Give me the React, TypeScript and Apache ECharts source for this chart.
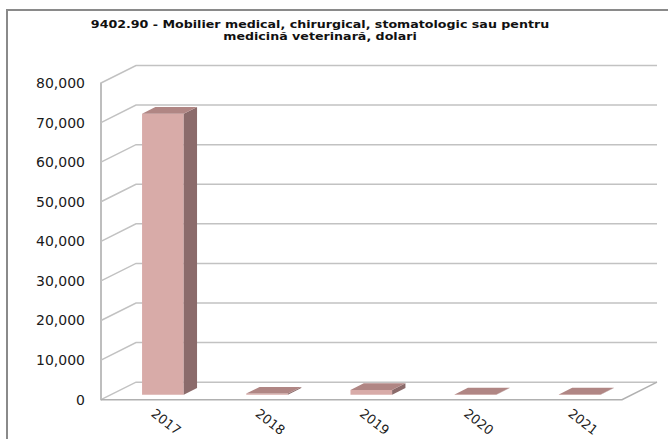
import { useEffect, useRef } from 'react';
import * as echarts from 'echarts';

const titleLines = [
  '9402.90 - Mobilier medical, chirurgical, stomatologic sau pentru',
  'medicină veterinară, dolari',
];
const categories = ['2017', '2018', '2019', '2020', '2021'];
const values = [71000, 300, 1200, 60, 60];
const yTicks = [0, 10000, 20000, 30000, 40000, 50000, 60000, 70000, 80000];

const DX = 35;
const DY = -17.5;
const D0 = 0.28;
const D1 = 0.66;
const BAR_FRAC = 0.4;
const FRONT = '#d8aba8';
const SIDE = '#8b6b6b';
const TOP = '#b08684';
const GRID = '#c2c2c2';

export default function App() {
  const ref = useRef<HTMLDivElement>(null);
  useEffect(() => {
    const chart = echarts.init(ref.current!, null, { renderer: 'svg' });
    chart.setOption({
      animation: false,
      backgroundColor: '#ffffff',
      grid: { left: 101, top: 83, width: 521, height: 317 },
      xAxis: {
        type: 'category',
        data: categories,
        axisLine: { show: false },
        axisTick: { show: false },
        splitLine: { show: false },
        axisLabel: {
          rotate: -38,
          margin: 12,
          interval: 0,
          fontFamily: 'DejaVu Sans',
          fontSize: 13,
          color: '#222',
        },
      },
      yAxis: {
        type: 'value',
        min: 0,
        max: 80000,
        interval: 10000,
        axisLine: { show: true, lineStyle: { color: '#a8a8a8', width: 1.5 } },
        axisTick: { show: false },
        splitLine: { show: false },
        axisLabel: {
          margin: 16,
          fontFamily: 'DejaVu Sans',
          fontSize: 14,
          color: '#1a1a1a',
          formatter: (v: number) => v.toLocaleString('en-US'),
        },
      },
      graphic: [
        {
          type: 'rect',
          silent: true,
          z: -10,
          shape: { x: 7, y: 10, width: 720, height: 500 },
          style: { fill: 'none', stroke: '#8a8a8a', lineWidth: 2 },
        },
        ...titleLines.map((t, k) => ({
          type: 'text',
          x: 320,
          y: 24.5 + k * 11.5,
          scaleX: 1.15,
          style: {
            text: t,
            textAlign: 'center',
            textVerticalAlign: 'middle',
            font: 'bold 11px "DejaVu Sans"',
            fill: '#111',
          },
        })),
      ],
      series: [
        {
          type: 'custom',
          silent: true,
          z: 1,
          data: [[0, 0]],
          renderItem: (params: any, api: any) => {
            const cs = params.coordSys;
            const x0 = cs.x;
            const x1 = cs.x + cs.width;
            const children: any[] = [];
            yTicks.forEach((v) => {
              const y = api.coord([0, v])[1];
              children.push({
                type: 'polyline',
                shape: { points: [[x0, y], [x0 + DX, y + DY], [x1 + DX, y + DY]] },
                style: { stroke: GRID, lineWidth: 1.5, fill: 'none' },
              });
            });
            const yb = api.coord([0, 0])[1];
            children.push({
              type: 'polyline',
              shape: { points: [[x0, yb], [x1, yb], [x1 + DX, yb + DY]] },
              style: { stroke: '#b0b0b0', lineWidth: 1.5, fill: 'none' },
            });
            return { type: 'group', children };
          },
        },
        {
          type: 'custom',
          z: 2,
          data: values.map((v, i) => [i, v]),
          renderItem: (params: any, api: any) => {
            const i = api.value(0);
            const v = api.value(1);
            const base = api.coord([i, 0]);
            const top = api.coord([i, v]);
            const bw = api.size([1, 0])[0] * BAR_FRAC;
            const ox = D0 * DX;
            const oy = D0 * DY;
            const ddx = (D1 - D0) * DX;
            const ddy = (D1 - D0) * DY;
            const xl = base[0] - bw / 2 + ox;
            const xr = xl + bw;
            const yb = base[1] + oy;
            const yt = top[1] + oy;
            return {
              type: 'group',
              children: [
                {
                  type: 'rect',
                  shape: { x: xl, y: yt, width: bw, height: Math.max(yb - yt, 0.5) },
                  style: { fill: FRONT },
                },
                {
                  type: 'polygon',
                  shape: { points: [[xr, yt], [xr + ddx, yt + ddy], [xr + ddx, yb + ddy], [xr, yb]] },
                  style: { fill: SIDE },
                },
                {
                  type: 'polygon',
                  shape: { points: [[xl, yt], [xl + ddx, yt + ddy], [xr + ddx, yt + ddy], [xr, yt]] },
                  style: { fill: TOP },
                },
              ],
            };
          },
        },
      ],
    });
    return () => chart.dispose();
  }, []);
  return (
    <div
      ref={ref}
      style={{ position: 'absolute', left: 0, top: 0, width: 668, height: 439 }}
    />
  );
}
